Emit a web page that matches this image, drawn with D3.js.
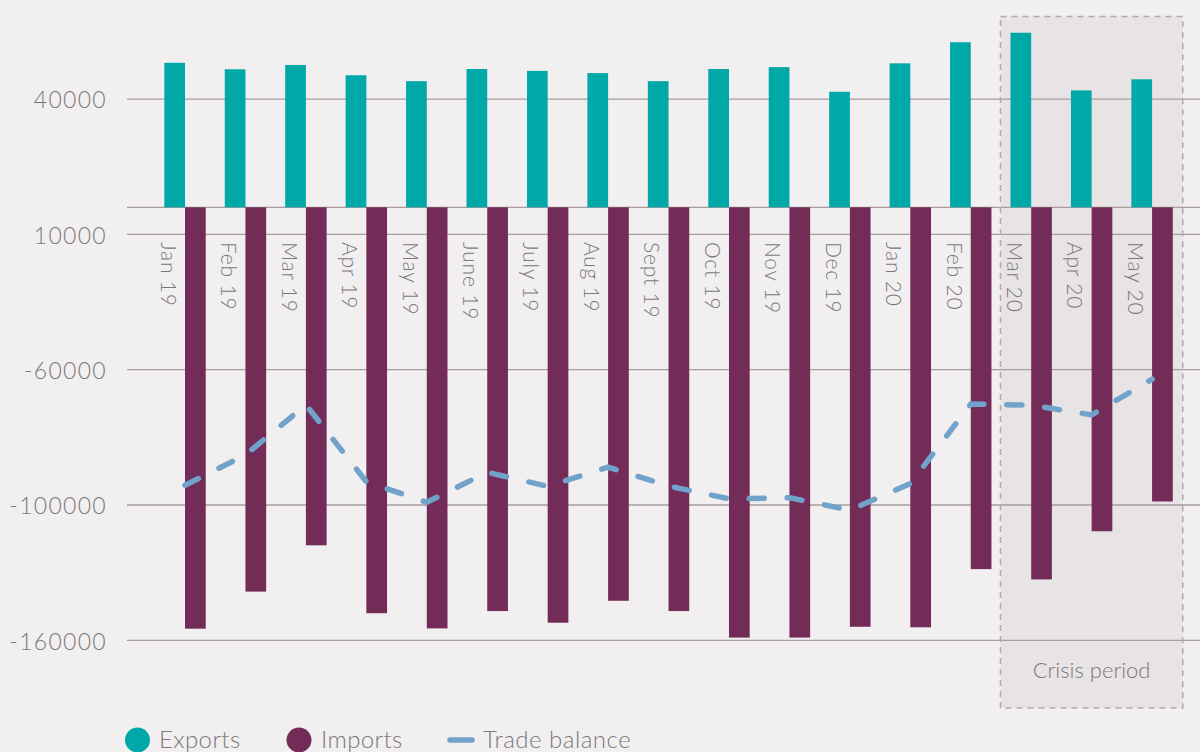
<!DOCTYPE html>
<html><head><meta charset="utf-8">
<script src="https://cdn.jsdelivr.net/npm/d3@7"></script>
<style>
body{margin:0;background:#f1eff0;}
svg{display:block;font-family:Lato,'Open Sans',sans-serif;font-weight:300;}
</style>
</head><body>
<svg id="c" width="1200" height="752"></svg>
<script>
const months = ["Jan 19","Feb 19","Mar 19","Apr 19","May 19","June 19","July 19","Aug 19","Sept 19","Oct 19","Nov 19","Dec 19","Jan 20","Feb 20","Mar 20","Apr 20","May 20"];
const exportsData = [53400,51000,52600,48800,46600,51100,50400,49600,46600,51100,51800,42700,53200,61000,64500,43200,47300];
const importsData = [-155700,-142000,-124900,-150000,-155600,-149200,-153500,-145400,-149200,-159000,-159000,-155000,-155200,-133700,-137500,-119700,-108700];
const balanceData = [-102700,-91500,-73000,-101400,-109000,-97900,-103100,-96000,-103000,-107700,-107300,-111900,-102100,-72700,-73100,-76700,-63500];
const tickValues = [40000,-10000,-60000,-110000,-160000];
const tickLabels = ["40000","10000","-60000","-100000","-160000"];
const crisisStart = "Mar 20", crisisEnd = "May 20";
const crisisLabel = "Crisis period";
const legendItems = ["Exports","Imports","Trade balance"];

const C_EXP = "#00a8a8", C_IMP = "#722c57", C_BAL = "#71a3ca";
const C_GRID = "#a99d9e", C_TEXT = "#7b7879";

const svg = d3.select("#c");
svg.append("rect").attr("width",1200).attr("height",752).attr("fill","#f1eff0");

const y = d3.scaleLinear().domain([0,-160000]).range([207.3,640.3]);
const x = d3.scaleBand().domain(months).range([154.8,1182.3]).paddingInner(0.315).paddingOuter(0.1575);
const bw = x.bandwidth();

// crisis box fill
const bx0 = x(crisisStart) - 10, bx1 = x(crisisEnd) + bw + 10;
const by0 = y(70500), by1 = y(-185000);
svg.append("rect").attr("x",bx0).attr("y",by0).attr("width",bx1-bx0).attr("height",by1-by0)
  .attr("fill","#e8e4e5");

// gridlines
const gx0 = 127, gx1 = 1200;
svg.append("g").selectAll("line").data(tickValues.concat([0])).join("line")
  .attr("x1",gx0).attr("x2",gx1).attr("y1",d=>y(d)).attr("y2",d=>y(d))
  .attr("stroke",C_GRID).attr("stroke-width",1.3);

// y labels
svg.append("g").selectAll("text").data(tickValues).join("text")
  .attr("x",107).attr("y",d=>y(d)+1).attr("dy","0.36em").attr("text-anchor","end")
  .attr("fill",C_TEXT).attr("font-size",23).attr("letter-spacing",1.3)
  .text((d,i)=>tickLabels[i]);

// bars
svg.append("g").selectAll("rect").data(months).join("rect")
  .attr("x",d=>x(d)).attr("width",bw/2)
  .attr("y",(d,i)=>y(exportsData[i])).attr("height",(d,i)=>y(0)-y(exportsData[i]))
  .attr("fill",C_EXP);
svg.append("g").selectAll("rect").data(months).join("rect")
  .attr("x",d=>x(d)+bw/2).attr("width",bw/2)
  .attr("y",y(0)).attr("height",(d,i)=>y(importsData[i])-y(0))
  .attr("fill",C_IMP);

// x labels
svg.append("g").selectAll("text").data(months).join("text")
  .attr("transform",d=>`translate(${x(d)+bw*0.25-6.5},242) rotate(90)`)
  .attr("dy","0.35em").attr("fill",C_TEXT).attr("font-size",21).attr("letter-spacing",0.8)
  .text(d=>d);

// balance line
const line = d3.line().x((d,i)=>x(months[i])+bw/2).y(d=>y(d));
svg.append("path").datum(balanceData).attr("d",line)
  .attr("fill","none").attr("stroke",C_BAL).attr("stroke-width",5.5)
  .attr("stroke-linecap","round").attr("stroke-dasharray","15,23");

// crisis box border
svg.append("rect").attr("x",bx0).attr("y",by0).attr("width",bx1-bx0).attr("height",by1-by0)
  .attr("fill","none").attr("stroke","#b3a8a8").attr("stroke-width",1.5).attr("stroke-dasharray","6,5");
svg.append("text").attr("x",(bx0+bx1)/2).attr("y",678).attr("text-anchor","middle")
  .attr("fill",C_TEXT).attr("font-size",22).text(crisisLabel);

// legend
const lg = svg.append("g");
lg.append("circle").attr("cx",137.5).attr("cy",740).attr("r",12.5).attr("fill",C_EXP);
lg.append("text").attr("x",159).attr("y",748).attr("font-size",24).attr("letter-spacing",0.4).attr("fill",C_TEXT).text(legendItems[0]);
lg.append("circle").attr("cx",299).attr("cy",740).attr("r",12.5).attr("fill",C_IMP);
lg.append("text").attr("x",321).attr("y",748).attr("font-size",24).attr("letter-spacing",0.4).attr("fill",C_TEXT).text(legendItems[1]);
lg.append("line").attr("x1",450).attr("x2",472).attr("y1",740).attr("y2",740)
  .attr("stroke",C_BAL).attr("stroke-width",5.5).attr("stroke-linecap","round");
lg.append("text").attr("x",483).attr("y",748).attr("font-size",24).attr("letter-spacing",0.5).attr("fill",C_TEXT).text(legendItems[2]);
</script>
</body></html>
